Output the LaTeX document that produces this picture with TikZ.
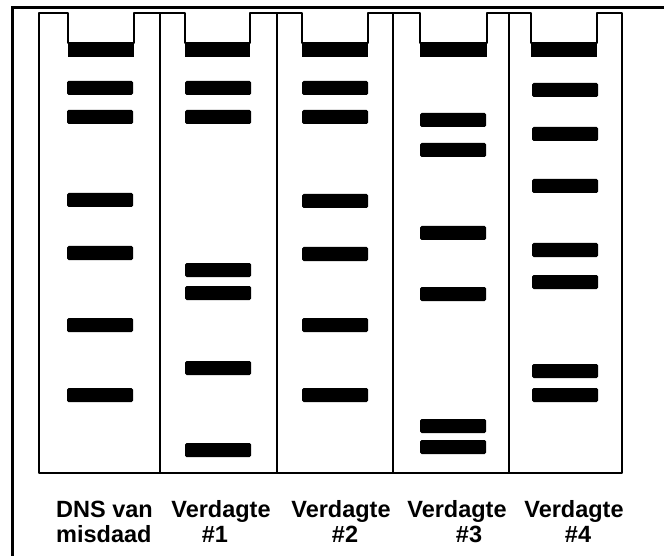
\documentclass[tikz,border=0pt]{standalone}
\usepackage{fontspec}
\setmainfont{Liberation Sans}
\begin{document}
\begin{tikzpicture}[x=1pt,y=-1pt,
  frameline/.style={line width=3pt},
  gelline/.style={line width=1.8pt, line join=round},
  divider/.style={line width=1.6pt},
  band/.style={fill=black, rounded corners=1.5pt},
  lbl/.style={font=\fontsize{23.5}{25}\bfseries\selectfont, inner sep=0pt}]
\useasboundingbox (0,0) rectangle (664,556);
\clip (0,0) rectangle (664,556);
\fill[white] (0,0) rectangle (664,556);
% outer frame
\draw[frameline] (12,560) -- (12,7.5) -- (670,7.5);
% gel outline with wells
\draw[gelline] (39,473) -- (39,13) -- (68,13) -- (68,43) -- (134,43) -- (134,13)
  -- (185,13) -- (185,43) -- (250,43) -- (250,13)
  -- (302,13) -- (302,43) -- (368,43) -- (368,13)
  -- (420,13) -- (420,43) -- (487,43) -- (487,13)
  -- (531,13) -- (531,43) -- (597,43) -- (597,13)
  -- (622,13) -- (622,473) -- cycle;
% lane dividers
\foreach \x in {160,277,393,509} \draw[divider] (\x,13) -- (\x,473);
% wells (top bands)
\foreach \a/\b in {68/134,185/250,302/368,420/487,531/597}
  \fill (\a,43) rectangle (\b,57.5);
% bands: lane left edge / list of centres
\foreach \y in {88,117,200,253,325,395} \fill[band] (67,\y-7) rectangle (133,\y+7);
\foreach \y in {88,117,270,293,368,450} \fill[band] (185,\y-7) rectangle (251,\y+7);
\foreach \y in {88,117,201,254,325,395} \fill[band] (302,\y-7) rectangle (368,\y+7);
\foreach \y in {120,150,233,294,426,447} \fill[band] (420,\y-7) rectangle (486,\y+7);
\foreach \y in {90,134,186,250,282,371,395} \fill[band] (532,\y-7) rectangle (598,\y+7);
% labels
\node[lbl, anchor=base west] (l0a) at (56,517) {DNS van};
\node[lbl, anchor=base west] (l0b) at (56,542) {misdaad};
\node[lbl, anchor=base] (l1a) at (221,517) {Verdagte};
\node[lbl, anchor=base] (l1b) at (215,542) {\#1};
\node[lbl, anchor=base] (l2a) at (341,517) {Verdagte};
\node[lbl, anchor=base] (l2b) at (345,542) {\#2};
\node[lbl, anchor=base] (l3a) at (457,517) {Verdagte};
\node[lbl, anchor=base] (l3b) at (469,542) {\#3};
\node[lbl, anchor=base] (l4a) at (574,517) {Verdagte};
\node[lbl, anchor=base] (l4b) at (578,542) {\#4};
\end{tikzpicture}
\end{document}
